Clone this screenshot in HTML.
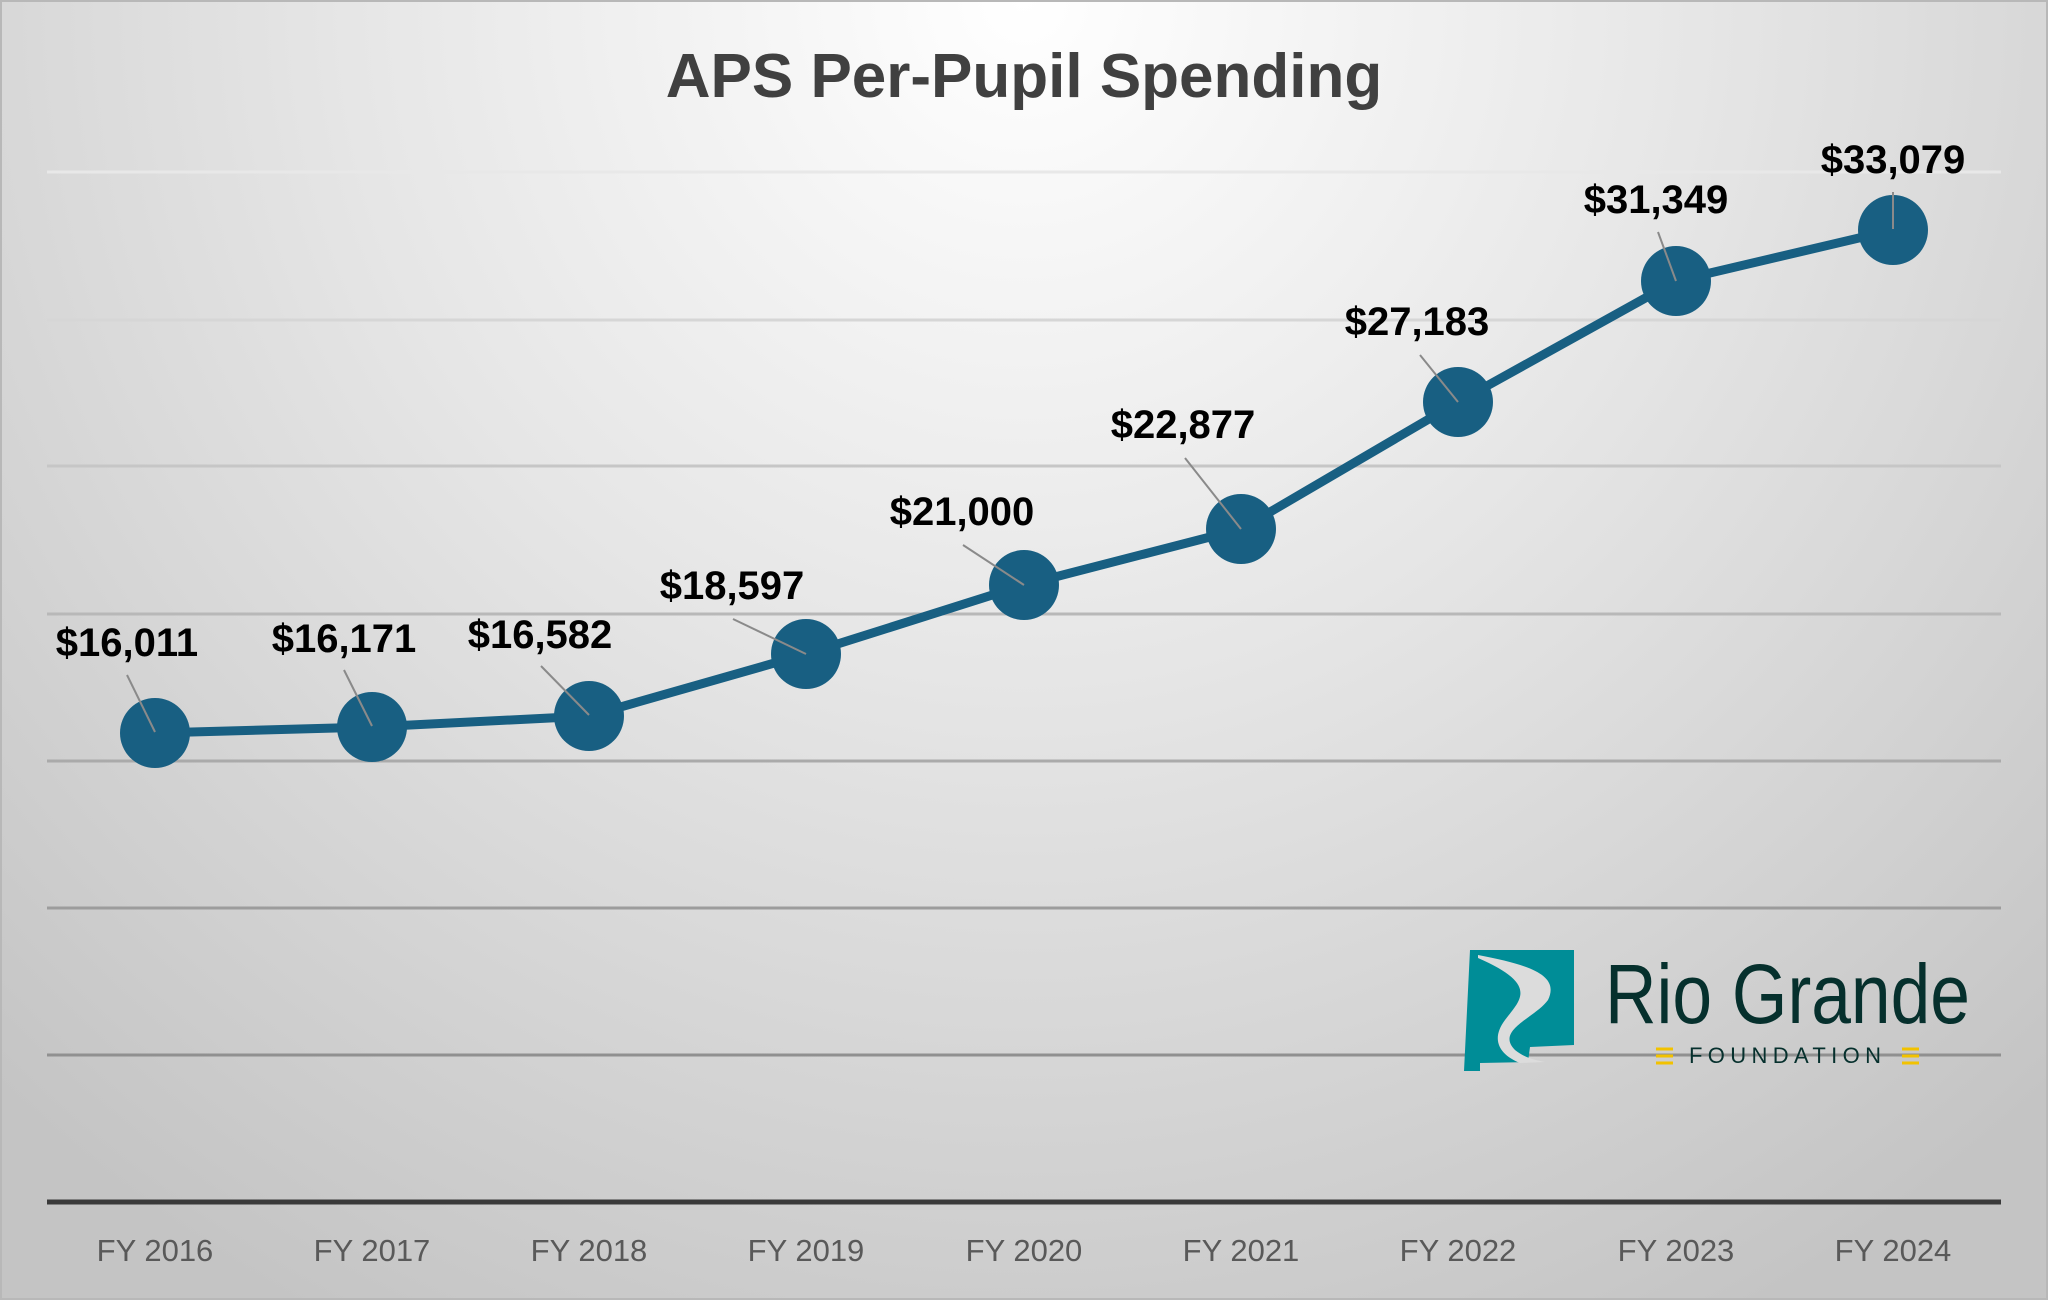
<!DOCTYPE html>
<html><head><meta charset="utf-8"><style>
html,body{margin:0;padding:0;width:2048px;height:1300px;overflow:hidden}
svg{display:block}
text{font-family:"Liberation Sans",sans-serif}
</style></head><body>
<svg width="2048" height="1300" viewBox="0 0 2048 1300" xmlns="http://www.w3.org/2000/svg">
<defs>
<radialGradient id="bg" cx="1024" cy="0" r="1500" gradientUnits="userSpaceOnUse">
<stop offset="0" stop-color="#ffffff"/>
<stop offset="0.45" stop-color="#e6e6e6"/>
<stop offset="1" stop-color="#c4c4c4"/>
</radialGradient>
</defs>
<rect x="0" y="0" width="2048" height="1300" fill="url(#bg)"/>
<rect x="1" y="1" width="2046" height="1298" fill="none" stroke="#b8b8b8" stroke-width="2"/>
<text x="1024" y="97" text-anchor="middle" font-size="62" font-weight="bold" fill="#404040">APS Per-Pupil Spending</text>
<g stroke-width="3">
<line x1="47" x2="2001" y1="172" y2="172" stroke="#e8e8e8"/>
<line x1="47" x2="2001" y1="320" y2="320" stroke="#d6d6d6"/>
<line x1="47" x2="2001" y1="466" y2="466" stroke="#c6c6c6"/>
<line x1="47" x2="2001" y1="614" y2="614" stroke="#b8b8b8"/>
<line x1="47" x2="2001" y1="761" y2="761" stroke="#aaaaaa"/>
<line x1="47" x2="2001" y1="908" y2="908" stroke="#9c9c9c"/>
<line x1="47" x2="2001" y1="1055" y2="1055" stroke="#909090"/>
</g>
<line x1="47" x2="2001" y1="1202" y2="1202" stroke="#3a3a3a" stroke-width="5"/>
<g font-size="31" fill="#595959" text-anchor="middle">
<text x="155" y="1261">FY 2016</text><text x="372" y="1261">FY 2017</text><text x="589" y="1261">FY 2018</text>
<text x="806" y="1261">FY 2019</text><text x="1024" y="1261">FY 2020</text><text x="1241" y="1261">FY 2021</text>
<text x="1458" y="1261">FY 2022</text><text x="1676" y="1261">FY 2023</text><text x="1893" y="1261">FY 2024</text>
</g>
<path d="M1470 950 L1574 950 L1574 1045 L1530 1047 L1528 1062 L1480 1063 L1480 1071 L1464 1071 Z" fill="#008d97"/>
<path d="M1478 955 C1530 965 1560 975 1548 1000 C1535 1018 1495 1030 1515 1050 C1525 1058 1535 1060 1545 1062 L1520 1063 C1500 1055 1490 1040 1505 1020 C1520 1000 1540 985 1478 958 Z" fill="#dcdcdc"/>
<text x="1605" y="1023" font-family="Liberation Serif,serif" font-size="84" fill="#06302d" textLength="365" lengthAdjust="spacingAndGlyphs">Rio Grande</text>
<text x="1689" y="1063" font-size="22" fill="#06302d" letter-spacing="6" textLength="198">FOUNDATION</text>
<g stroke="#f2c200" stroke-width="3">
<line x1="1656" x2="1673" y1="1049" y2="1049"/><line x1="1656" x2="1673" y1="1056" y2="1056"/><line x1="1656" x2="1673" y1="1063" y2="1063"/>
<line x1="1902" x2="1919" y1="1049" y2="1049"/><line x1="1902" x2="1919" y1="1056" y2="1056"/><line x1="1902" x2="1919" y1="1063" y2="1063"/>
</g>
<polyline points="155,733 372,727 589,716 806,654 1024,585 1241,529 1458,402 1676,281 1893,230" fill="none" stroke="#185f82" stroke-width="9"/>
<g fill="#185f82">
<circle cx="155" cy="733" r="35"/><circle cx="372" cy="727" r="35"/><circle cx="589" cy="716" r="35"/>
<circle cx="806" cy="654" r="35"/><circle cx="1024" cy="585" r="35"/><circle cx="1241" cy="529" r="35"/>
<circle cx="1458" cy="402" r="35"/><circle cx="1676" cy="281" r="35"/><circle cx="1893" cy="230" r="35"/>
</g>
<g stroke="#8a8a8a" stroke-width="2">
<line x1="127" y1="675" x2="155" y2="732"/><line x1="344" y1="670" x2="372" y2="726"/><line x1="541" y1="666" x2="589" y2="715"/>
<line x1="733" y1="619" x2="806" y2="654"/><line x1="963" y1="545" x2="1024" y2="585"/><line x1="1185" y1="458" x2="1241" y2="529"/>
<line x1="1420" y1="355" x2="1458" y2="402"/><line x1="1658" y1="232" x2="1676" y2="281"/><line x1="1893" y1="192" x2="1893" y2="229"/>
</g>
<g font-size="40" font-weight="bold" fill="#000" text-anchor="middle">
<text x="127" y="656">$16,011</text><text x="344" y="652">$16,171</text><text x="540" y="648">$16,582</text>
<text x="732" y="599">$18,597</text><text x="962" y="525">$21,000</text><text x="1183" y="438">$22,877</text>
<text x="1417" y="335">$27,183</text><text x="1656" y="213">$31,349</text><text x="1893" y="173">$33,079</text>
</g>
</svg>
</body></html>
